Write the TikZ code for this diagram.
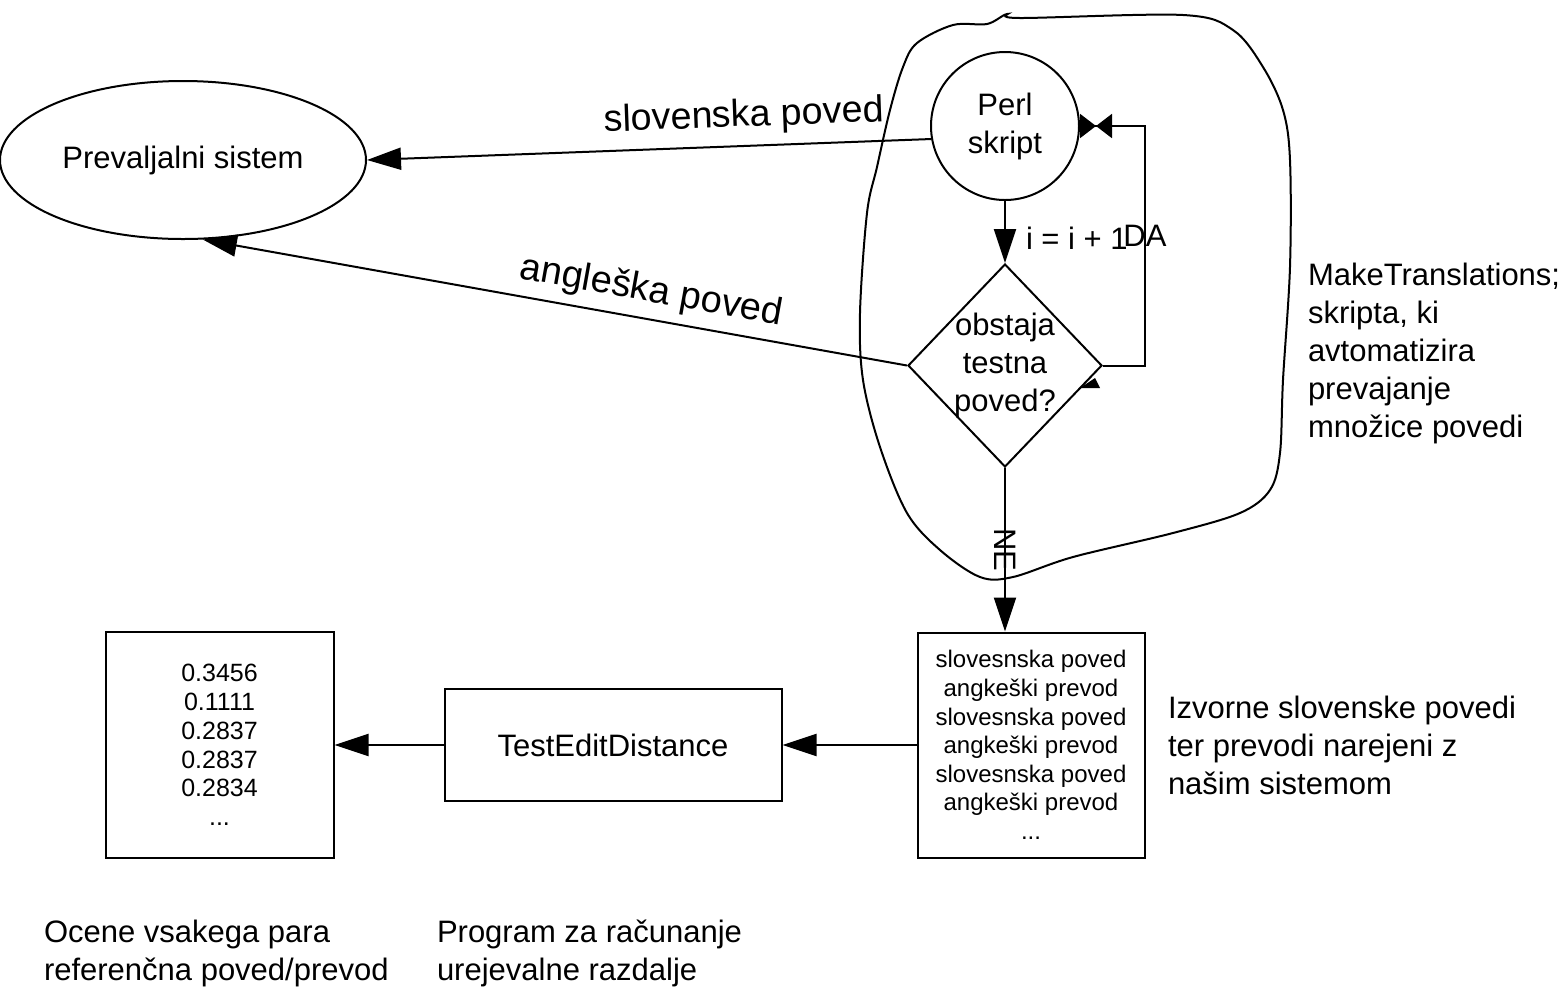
\documentclass[tikz,border=0pt]{standalone}
\usepackage{fontspec}
\setmainfont{Liberation Sans}
\usetikzlibrary{positioning, arrows.meta, shapes.geometric}

\begin{document}
\begin{tikzpicture}[x=0.5pt, y=-0.5pt, line width=1pt,
    >={Triangle[length=17pt, width=11pt]},
    txt/.style={font=\fontsize{15.5pt}{19pt}\selectfont},
    small/.style={font=\fontsize{12pt}{14.3pt}\selectfont, align=center},
    note/.style={txt, align=left, inner sep=0pt, anchor=west}]
    \useasboundingbox (0,0) rectangle (1560,987);

    % outline round the script
    \draw plot[smooth cycle, tension=0.55] coordinates {
        (1007,14) (1020,18) (1183,15) (1233,30) (1263,67) (1283,110)
        (1290,160) (1290,267) (1283,380) (1280,453) (1270,490) (1240,513)
        (1173,533) (1073,557) (1013,577) (980,577) (940,550) (907,513)
        (880,447) (863,380) (860,313) (867,213) (877,167) (890,110)
        (903,67) (917,43) (953,25) (987,24)};

    \node [draw,
        ellipse, txt,
        minimum width=183pt,
        minimum height=79pt
    ] (prev) at (183,160) {Prevaljalni sistem};

    \node [draw,
        circle, txt, align=center,
        minimum size=74pt,
        inner sep=0pt
    ] (perl) at (1005,126) {Perl\\skript};

    \node [draw,
        diamond, txt, align=center,
        minimum width=97pt,
        minimum height=101.5pt,
        inner sep=-2pt,
        below=31pt of perl
    ] (test) {obstaja\\testna\\poved?};

    \node [draw,
        small,
        minimum width=113.5pt,
        minimum height=112.5pt
    ] (pari) at (1031,745) {slovesnska poved\\angkeški prevod\\slovesnska poved\\angkeški prevod\\slovesnska poved\\angkeški prevod\\...};

    \node [draw,
        txt,
        minimum width=168.5pt,
        minimum height=56pt,
        left=67pt of pari
    ] (ted) {TestEditDistance};

    \node [draw,
        small, font=\fontsize{12.5pt}{14.4pt}\selectfont,
        minimum width=114pt,
        minimum height=113pt,
        left=54.5pt of ted
    ] (ocene) {0.3456\\0.1111\\0.2837\\0.2837\\0.2834\\...};

    % notes
    \node [note] (make) at (1307,353) {MakeTranslations;\\skripta, ki\\avtomatizira\\prevajanje\\množice povedi};
    \node [note] (izvor) at (1167,745) {Izvorne slovenske povedi\\ter prevodi narejeni z\\našim sistemom};
    \node [note] (ocenetxt) at (43,953) {Ocene vsakega para\\referenčna poved/prevod};
    \node [note] (prog) at (436,953) {Program za računanje\\urejevalne razdalje};

    % connectors
    \coordinate (loop) at (1145,126);
    \draw [->] (perl.190) -- node [sloped, above=2pt, pos=0.33, font=\fontsize{18.8pt}{20pt}\selectfont] {slovenska poved} (prev.east);
    \draw [->] (test.west) -- node [sloped, above=1pt, pos=0.37, font=\fontsize{19pt}{20pt}\selectfont] {angleška poved} (prev.-76);
    \draw [->] (perl) -- node [anchor=west, xshift=10pt, inner sep=0pt, pos=0.6, txt] {i = i + 1} (test);
    \draw [-{Triangle[length=8pt, width=12pt]Triangle[length=8pt, width=12pt, reversed]}] (test.east) -| node [pos=0.77, txt, inner sep=0pt] {DA} (loop) -- (perl.east);
    \draw [->] (test.south) -- node [rotate=-90, txt, inner sep=0pt] {NE} (test.south |- pari.north);
    \draw [->] (pari) -- (ted);
    \draw [->] (ted) -- (ocene);
    \fill (1080,388) -- (1100,388) -- (1095,378) -- cycle;
\end{tikzpicture}
\end{document}
